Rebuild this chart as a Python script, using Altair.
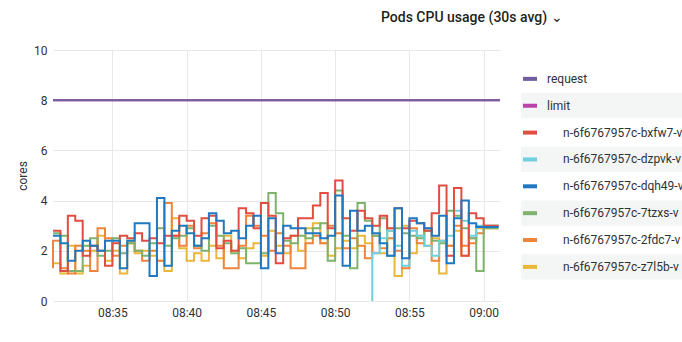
import altair as alt
import pandas as pd

# ---- data ----
# time axis: minutes after 08:00, one sample every 30 s from 08:31:00
start_min = 31.0
step_min = 0.5

series_names = [
    "request",
    "limit",
    "n-6f6767957c-bxfw7-v",
    "n-6f6767957c-dzpvk-v",
    "n-6f6767957c-dqh49-v",
    "n-6f6767957c-7tzxs-v",
    "n-6f6767957c-2fdc7-v",
    "n-6f6767957c-z7l5b-v",
]
series_colors = ["#705DA0", "#BA43A9", "#E24D42", "#6ED0E0", "#1F78C1", "#7EB26D", "#EF843C", "#EAB839"]

request_value = 8.0
limit_value = 8.0

red = [2.8, 2.8, 1.2, 3.4, 3.2, 1.8, 2.2, 2.0, 1.4, 2.3, 2.6, 2.5, 2.7, 2.4, 2.5, 2.3, 2.6, 2.6, 3.4, 3.2,
       2.6, 3.3, 3.4, 2.1, 2.4, 2.0, 3.7, 3.5, 2.9, 3.9, 3.4, 1.5, 2.5, 2.6, 3.3, 3.3, 3.8, 4.3, 2.9, 4.8,
       3.3, 2.8, 3.6, 3.3, 3.0, 3.4, 2.9, 3.7, 2.9, 3.2, 3.1, 2.8, 3.5, 4.6, 1.8, 4.5, 1.8, 3.5, 3.3, 3.0, 3.0]
blue = [2.6, 2.6, 2.3, 1.6, 2.0, 2.4, 2.2, 2.0, 2.4, 2.4, 1.3, 2.4, 3.1, 3.1, 1.0, 4.1, 1.4, 2.8, 3.0, 2.7,
        2.2, 2.5, 3.5, 3.2, 2.7, 2.8, 2.5, 3.0, 3.4, 1.3, 3.3, 1.9, 3.0, 2.9, 2.9, 2.7, 2.7, 2.5, 2.6, 4.2,
        1.4, 3.6, 2.8, 3.0, 2.7, 2.3, 1.8, 3.7, 1.7, 3.3, 3.1, 2.9, 2.6, 3.4, 1.5, 3.3, 4.0, 3.1, 2.95, 2.95, 2.95]
green = [2.7, 2.7, 2.6, 1.2, 1.2, 2.2, 2.5, 1.8, 2.0, 2.5, 1.9, 2.3, 2.0, 1.8, 2.3, 2.9, 2.2, 2.5, 2.6, 2.9,
         2.2, 2.0, 3.0, 2.6, 2.3, 1.9, 2.1, 1.5, 1.5, 1.9, 4.3, 3.5, 2.4, 2.3, 2.6, 2.5, 2.9, 3.1, 1.6, 4.4,
         2.6, 1.3, 3.9, 3.2, 2.6, 3.3, 1.8, 2.9, 2.7, 2.6, 2.5, 2.8, 2.4, 2.3, 3.6, 3.4, 2.9, 2.5, 1.2, 2.9, 2.9]
orange = [1.3, 2.4, 1.3, 1.1, 2.2, 2.0, 1.2, 2.9, 2.5, 1.8, 2.2, 2.3, 2.0, 1.6, 2.0, 1.6, 3.9, 2.6, 2.2, 3.0,
          2.1, 2.7, 3.1, 2.2, 1.3, 1.3, 2.2, 3.4, 3.0, 2.6, 2.0, 2.7, 2.2, 1.3, 1.3, 2.3, 2.6, 2.3, 3.0, 2.7,
          2.1, 2.5, 2.2, 1.7, 2.6, 2.1, 2.5, 2.0, 1.3, 2.9, 2.3, 2.9, 1.6, 2.4, 2.2, 3.0, 2.2, 2.3, 2.7, 3.0, 3.0]
yellow = [1.8, 1.5, 1.1, 2.2, 1.1, 1.4, 2.0, 2.6, 1.6, 2.0, 1.1, 2.4, 1.9, 2.0, 1.8, 1.6, 1.2, 3.3, 2.1, 1.6,
          1.9, 1.6, 2.2, 1.7, 2.6, 2.0, 1.7, 2.1, 2.3, 1.8, 2.8, 2.2, 1.9, 2.6, 2.0, 2.9, 3.1, 2.3, 1.8, 2.1,
          2.4, 2.1, 2.6, 2.3, 1.9, 1.9, 2.8, 1.0, 3.0, 1.9, 2.6, 2.2, 2.5, 1.1, 2.2, 2.8, 1.8, 2.5, 2.9, 2.9, 2.9]
cyan_start_index = 43
cyan = [0.0, 1.9, 2.5, 2.8, 2.2, 1.4, 2.8, 2.6, 2.2, 1.8, 2.4, 2.6, 3.6, 3.2, 2.6, 3.0, 3.0, 3.0]

y_ticks = [0, 2, 4, 6, 8, 10]
x_ticks = [35, 40, 45, 50, 55, 60]
x_domain = [31.0, 61.1]

# ---- build long table ----
rows = []
def add(name, values, first_index=0):
    for k, v in enumerate(values):
        rows.append({"t": start_min + step_min * (first_index + k), "v": v, "s": name})

# draw order: limit under request, pods afterwards
rows.append({"t": x_domain[0], "v": limit_value, "s": "limit"})
rows.append({"t": x_domain[1], "v": limit_value, "s": "limit"})
rows.append({"t": x_domain[0], "v": request_value, "s": "request"})
rows.append({"t": x_domain[1], "v": request_value, "s": "request"})
add(series_names[7], yellow)
add(series_names[6], orange)
add(series_names[5], green)
add(series_names[3], cyan, cyan_start_index)
add(series_names[2], red)
add(series_names[4], blue)
df = pd.DataFrame(rows)

color_scale = alt.Scale(domain=series_names, range=series_colors)
FONT = "Roboto"
TXT = "#2f3237"
W, H = 447, 251

lines = alt.Chart(df).mark_line(interpolate="step-before", strokeWidth=2).encode(
    x=alt.X("t:Q", scale=alt.Scale(domain=x_domain, nice=False, zero=False),
            axis=alt.Axis(values=x_ticks, title=None, grid=True, domain=False, ticks=False,
                          labelPadding=6,
                          labelExpr="datum.value < 60 ? '08:' + format(datum.value, '02d') : '09:' + format(datum.value - 60, '02d')")),
    y=alt.Y("v:Q", scale=alt.Scale(domain=[0, 10], nice=False),
            axis=alt.Axis(values=y_ticks, title="cores", grid=True, domain=False, ticks=False,
                          labelPadding=6, titleX=-31, titleBaseline="middle",
                          titleFontWeight="normal", titleFontSize=12)),
    color=alt.Color("s:N", scale=color_scale, legend=None),
)

# ---- legend (built from the series list, drawn to the right of the plot) ----
leg = pd.DataFrame({"name": series_names, "row": list(range(len(series_names)))})
row_scale = alt.Scale(domain=[-1.075, 8.27], reverse=True, nice=False, zero=False)
leg_y = alt.Y("row:Q", scale=row_scale, axis=None)

bg = alt.Chart(leg).transform_filter("datum.row % 2 == 1").transform_calculate(
    y0="datum.row - 0.47", y1="datum.row + 0.47"
).mark_rect(color="#f4f5f5", clip=False).encode(
    x=alt.value(W + 21), x2=alt.value(W + 200),
    y=alt.Y("y0:Q", scale=row_scale, axis=None),
    y2="y1:Q",
)
sw = alt.Chart(leg).mark_rule(strokeWidth=4, strokeCap="butt", clip=False).encode(
    x=alt.value(W + 23), x2=alt.value(W + 37), y=leg_y,
    color=alt.Color("name:N", scale=color_scale, legend=None),
)
txt1 = alt.Chart(leg).transform_filter("datum.row < 2").mark_text(
    align="left", baseline="middle", font=FONT, fontSize=12, color=TXT, clip=False
).encode(x=alt.value(W + 47), y=leg_y, text="name:N")
txt2 = alt.Chart(leg).transform_filter("datum.row >= 2").mark_text(
    align="left", baseline="middle", font=FONT, fontSize=12, color=TXT, clip=False
).encode(x=alt.value(W + 63), y=leg_y, text="name:N")

legend_layer = alt.layer(bg, sw, txt1, txt2)

chart = alt.layer(lines, legend_layer).resolve_scale(y="independent").properties(
    width=W, height=H,
    title=alt.TitleParams("Pods CPU usage (30s avg) ⌄", anchor="start", frame="group", dx=328, offset=19,
                          font=FONT, fontSize=14, fontWeight=500, color="#1f1f20"),
    autosize=alt.AutoSizeParams(type="none"),
    padding={"left": 53, "top": 50, "right": 182, "bottom": 41},
    background="white",
).configure_view(stroke=None).configure_axis(
    labelFont=FONT, labelFontSize=12, labelColor=TXT, titleFont=FONT, titleColor=TXT,
    gridColor="#e8e8e8", gridWidth=1,
)

chart.save("out.html", embed_options={"renderer": "svg", "actions": False})
